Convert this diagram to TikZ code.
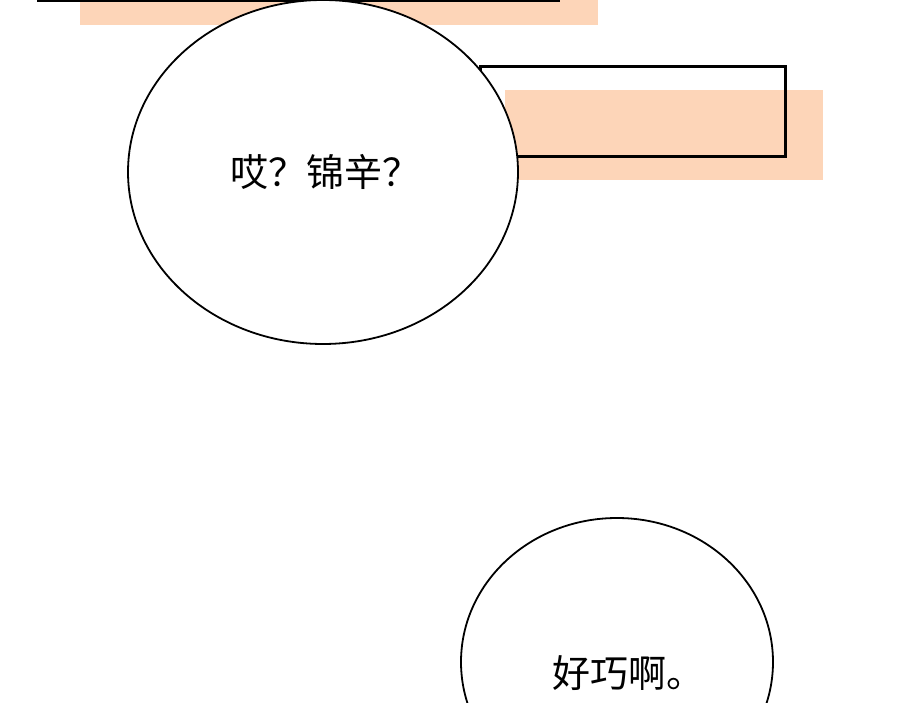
\documentclass[tikz,border=0pt]{standalone}
\usepackage{fontspec}
\newfontfamily\cjk{Noto Sans CJK SC}
\definecolor{peach}{HTML}{FDD5B8}
\begin{document}
\begin{tikzpicture}[x=1pt,y=-1pt,
  box/.style={draw=black,line width=3pt},
  bubble/.style={draw=black,line width=1.8pt,fill=white},
  say/.style={font=\cjk\fontsize{38}{44}\selectfont}]
\useasboundingbox (0,0) rectangle (900,703);
\fill[white] (0,0) rectangle (900,703);
\begin{scope}
\clip (0,0) rectangle (900,703);
\fill[peach] (80,0) rectangle (598,25);
\draw[box] (38,-20) rectangle (558,1);
\fill[peach] (505,90) rectangle (823,180);
\draw[box] (480,67) rectangle (785,157);
\draw[bubble] (323,172) ellipse [x radius=195, y radius=172];
\node[say] (t1) at (325,172) {哎？锦辛？};
\draw[bubble] (617,662) ellipse [x radius=156, y radius=144];
\node[say] (t2) at (628,673) {好巧啊。};
\end{scope}
\end{tikzpicture}
\end{document}
